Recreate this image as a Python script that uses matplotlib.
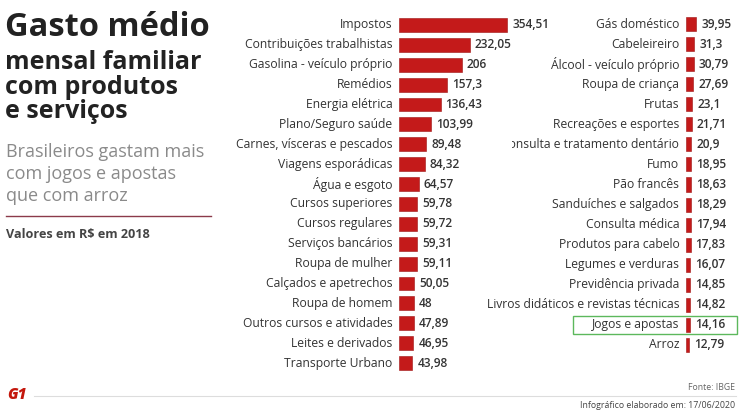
import matplotlib
matplotlib.use("Agg")
import matplotlib.pyplot as plt
from matplotlib.patches import Rectangle
from matplotlib.transforms import Bbox, blended_transform_factory

plt.rcParams["font.family"] = ["Open Sans", "DejaVu Sans"]

left_items = [
    "Impostos", "Contribuições trabalhistas", "Gasolina - veículo próprio",
    "Remédios", "Energia elétrica", "Plano/Seguro saúde",
    "Carnes, vísceras e pescados", "Viagens esporádicas", "Água e esgoto",
    "Cursos superiores", "Cursos regulares", "Serviços bancários",
    "Roupa de mulher", "Calçados e apetrechos", "Roupa de homem",
    "Outros cursos e atividades", "Leites e derivados", "Transporte Urbano",
]
left_values = [354.51, 232.05, 206, 157.3, 136.43, 103.99, 89.48, 84.32, 64.57,
               59.78, 59.72, 59.31, 59.11, 50.05, 48, 47.89, 46.95, 43.98]

right_items = [
    "Gás doméstico", "Cabeleireiro", "Álcool - veículo próprio",
    "Roupa de criança", "Frutas", "Recreações e esportes",
    "Consulta e tratamento dentário", "Fumo", "Pão francês",
    "Sanduíches e salgados", "Consulta médica", "Produtos para cabelo",
    "Legumes e verduras", "Previdência privada",
    "Livros didáticos e revistas técnicas", "Jogos e apostas", "Arroz",
]
right_values = [39.95, 31.3, 30.79, 27.69, 23.1, 21.71, 20.9, 18.95, 18.63,
                18.29, 17.94, 17.83, 16.07, 14.85, 14.82, 14.16, 12.79]

highlight = "Jogos e apostas"

W, H = 744, 420
RED = "#c41a1a"
TXT = "#333333"


def fx(x):
    return x / W


def fy(y):
    return 1 - y / H


def fmt(v):
    return f"{v:g}".replace(".", ",")


def bars(ax, items, values, xmax):
    ax.barh(range(len(items)), values, height=0.7, color=RED,
            edgecolor="#9e1212", linewidth=0.4)
    ax.set_ylim(len(items) - 0.5, -0.5)
    ax.set_xlim(0, xmax)
    ax.axis("off")
    labels = []
    for i, (name, v) in enumerate(zip(items, values)):
        lab = ax.annotate(name, xy=(0, i), xytext=(-4.8, 0),
                          textcoords="offset points", ha="right", va="center",
                          fontsize=8.7, color=TXT, annotation_clip=False)
        labels.append(lab)
        ax.annotate(fmt(v), xy=(v, i), xytext=(3.6, 0),
                    textcoords="offset points", ha="left", va="center",
                    fontsize=8.6, color=TXT, fontweight="semibold",
                    annotation_clip=False)
    return labels


fig = plt.figure(figsize=(7.44, 4.2), dpi=100)

ax1 = fig.add_axes([fx(399), fy(373), fx(130), 358 / H])
bars(ax1, left_items, left_values, 130 / 0.305)

ax2 = fig.add_axes([fx(686), fy(355), fx(55), 341 / H])
labels2 = bars(ax2, right_items, right_values, 55 / 0.26)

# green box around the highlighted row
k = right_items.index(highlight)
tr = blended_transform_factory(fig.transFigure, ax2.transData)
fig.add_artist(Rectangle((fx(573), k - 0.43), fx(737) - fx(573), 0.86,
                         transform=tr, fill=False, edgecolor="#5cb85c",
                         linewidth=1.0))

# title block
fig.text(fx(5), fy(27), "Gasto médio", fontsize=23.5, fontweight="bold",
         color="#222222", va="center", ha="left")
fig.text(fx(5), fy(87), "mensal familiar\ncom produtos\ne serviços",
         fontsize=18, fontweight="bold", color="#222222", va="center",
         ha="left", linespacing=0.98)
fig.text(fx(6), fy(174), "Brasileiros gastam mais\ncom jogos e apostas\nque com arroz",
         fontsize=13, color="#8a8a8a", va="center", ha="left", linespacing=1.3)
fig.add_artist(plt.Line2D([fx(6), fx(211)], [fy(216), fy(216)],
                          color="#8b3a4a", linewidth=1.0))
fig.text(fx(6), fy(234), "Valores em R$ em 2018", fontsize=9.1,
         fontweight="bold", color="#444444", va="center", ha="left")

# footer
fig.text(fx(7), fy(395), "G1", fontsize=11, fontweight="heavy",
         color="#c4170c", va="center", ha="left", style="italic")
fig.add_artist(plt.Line2D([fx(34), fx(736)], [fy(396), fy(396)],
                          color="#dddddd", linewidth=0.8))
fig.text(fx(735), fy(387), "Fonte: IBGE", fontsize=6.3, color="#666666",
         va="center", ha="right")
fig.text(fx(735), fy(405), "Infográfico elaborado em: 17/06/2020",
         fontsize=6.3, color="#444444", va="center", ha="right")

# the long label on the right loses its first letters behind the left column
cut = labels2[right_items.index("Consulta e tratamento dentário")]
fig.canvas.draw()
bb = cut.get_window_extent()
cut.set_clip_on(True)
cut.set_clip_box(Bbox([[bb.x0 + 11, 0], [fig.bbox.x1, fig.bbox.y1]]))

fig.savefig("out.png", dpi=100)
